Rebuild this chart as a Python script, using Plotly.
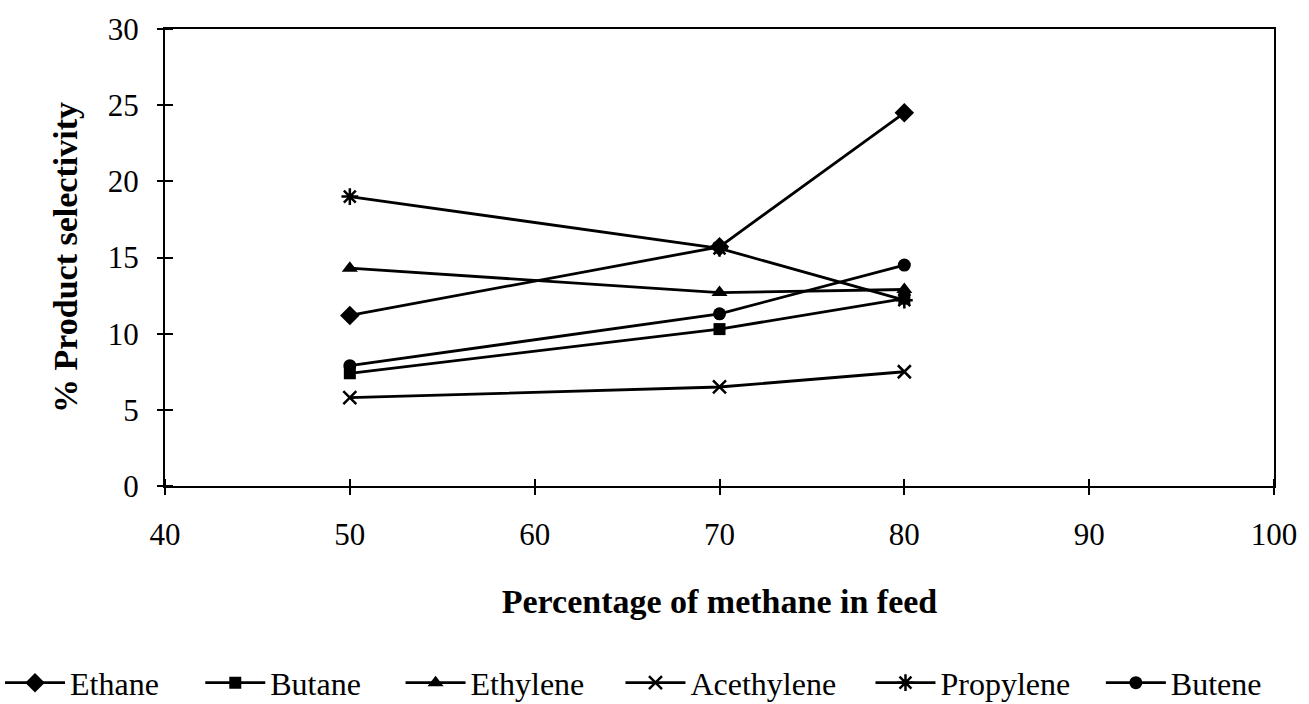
import plotly.graph_objects as go

# Methane fraction in the feed (%)
methane_pct = [50, 70, 80]

# Product selectivity (%) for each product
ethane = [11.2, 15.7, 24.5]
butane = [7.4, 10.3, 12.3]
ethylene = [14.3, 12.7, 12.9]
acethylene = [5.8, 6.5, 7.5]
propylene = [19.0, 15.6, 12.2]
butene = [7.9, 11.3, 14.5]

series_names = ["Ethane", "Butane", "Ethylene", "Acethylene", "Propylene", "Butene"]
series_values = [ethane, butane, ethylene, acethylene, propylene, butene]
series_symbols = ["diamond", "square", "triangle-up", "x-thin", "asterisk", "circle"]
series_sizes = [15, 12, 14, 13, 14, 13]

# Left edge (container fraction) of each legend entry along the bottom row
legend_x = [0.0, 0.153, 0.306, 0.474, 0.665, 0.841]

FONT = "Liberation Serif, Times New Roman, serif"

# Plot area size in px, used to centre the crossing ticks on the axis lines
PLOT_W, PLOT_H = 1110, 462
HALF_TICK = 8

fig = go.Figure()
for i, (name, vals, sym, sz) in enumerate(zip(series_names, series_values,
                                               series_symbols, series_sizes)):
    thin = sym in ("x-thin", "asterisk")
    fig.add_trace(go.Scatter(
        x=methane_pct, y=vals, name=name, mode="lines+markers",
        legend="legend" if i == 0 else f"legend{i + 1}",
        line=dict(color="black", width=2.8),
        marker=dict(symbol=sym, size=sz, color="black",
                    line=dict(color="black", width=2.5 if thin else 0)),
    ))

# Companion trace on the overlay axes that draw the crossing tick marks
fig.add_trace(go.Scatter(x=methane_pct, y=ethane, xaxis="x2", yaxis="y2",
                         mode="lines", line=dict(width=0),
                         showlegend=False, hoverinfo="skip"))

cross_ticks = dict(ticks="outside", ticklen=2 * HALF_TICK, tickwidth=2,
                   tickcolor="black", showticklabels=False, showline=False,
                   showgrid=False, zeroline=False, anchor="free")
axis_common = dict(showgrid=False, zeroline=False, linecolor="black", linewidth=2,
                   ticks="", showline=True, mirror=True,
                   tickfont=dict(family=FONT, size=31, color="black"))

legend_style = dict(orientation="h", xanchor="left", xref="container",
                    y=0.03, yanchor="middle", yref="container",
                    font=dict(family=FONT, size=32, color="black"),
                    itemwidth=60, bgcolor="rgba(0,0,0,0)")
legends = {}
for i, lx in enumerate(legend_x):
    key = "legend" if i == 0 else f"legend{i + 1}"
    legends[key] = dict(x=lx, **legend_style)

fig.update_layout(
    width=1309, height=704,
    margin=dict(l=165, r=34, t=24, b=218),
    paper_bgcolor="white", plot_bgcolor="white",
    font=dict(family=FONT, color="black"),
    xaxis=dict(range=[40, 100], dtick=10, tick0=40, ticklabelstandoff=20,
               title=dict(text="<b>Percentage of methane in feed</b>",
                          font=dict(family=FONT, size=34), standoff=38),
               **axis_common),
    yaxis=dict(range=[0, 30], dtick=5, tick0=0, ticklabelstandoff=18,
               title=dict(text="<b>% Product selectivity</b>",
                          font=dict(family=FONT, size=34), standoff=20),
               **axis_common),
    xaxis2=dict(range=[40, 100], dtick=10, tick0=40, overlaying="x",
                side="bottom", position=HALF_TICK / PLOT_H, **cross_ticks),
    yaxis2=dict(range=[0, 30], dtick=5, tick0=0, overlaying="y",
                side="left", position=HALF_TICK / PLOT_W, **cross_ticks),
    showlegend=True,
    **legends,
)

fig.write_html("out.html")
